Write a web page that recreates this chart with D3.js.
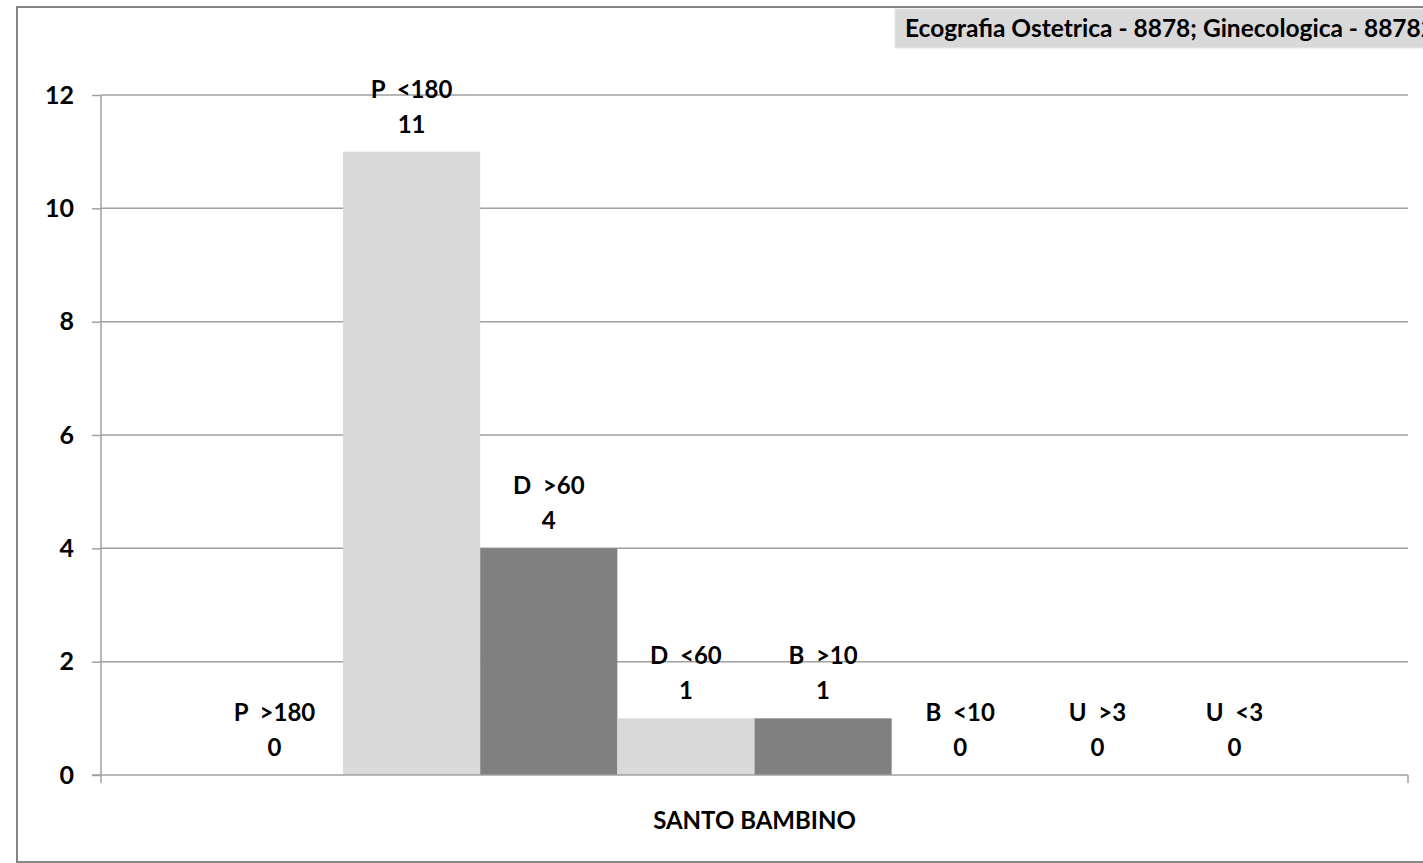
<!DOCTYPE html>
<html>
<head>
<meta charset="utf-8">
<script src="https://cdn.jsdelivr.net/npm/d3@7"></script>
<style>
  body { margin: 0; background: #fff; }
  svg { display: block; font-family: Lato, "Open Sans", sans-serif; font-weight: bold; }
</style>
</head>
<body>
<script>
var categories = ['SANTO BAMBINO'];
var seriesNames = ['P  >180', 'P  <180', 'D  >60', 'D  <60', 'B  >10', 'B  <10', 'U  >3', 'U  <3'];
var seriesValues = [0, 11, 4, 1, 1, 0, 0, 0];
var yTicks = [0, 2, 4, 6, 8, 10, 12];
var titleText = 'Ecografia Ostetrica - 8878; Ginecologica - 88782';

drawChart();

function drawChart(w = 1423, h = 863) {
    var plotLeft = 101, plotRight = 1408, plotTop = 95, plotBottom = 775;

    var svg = d3.select('body').append('svg')
        .attr('width', w)
        .attr('height', h);

    // outer frame
    svg.append('rect')
        .attr('x', 17).attr('y', 7)
        .attr('width', 1500).attr('height', 855)
        .attr('fill', '#fff')
        .attr('stroke', '#868686')
        .attr('stroke-width', 2);

    // title box
    svg.append('rect')
        .attr('x', 895).attr('y', 9)
        .attr('width', 600).attr('height', 39)
        .attr('fill', '#d9d9d9')
        .attr('stroke', '#e6e6e6');
    svg.append('text')
        .attr('x', 905).attr('y', 37)
        .attr('font-size', 24.5)
        .text(titleText);

    var y = d3.scaleLinear().domain([0, 12]).range([plotBottom, plotTop]);

    var x0 = d3.scaleBand()
        .domain(categories)
        .range([plotLeft, plotRight])
        .paddingOuter(0.0956);

    var x1 = d3.scaleBand()
        .domain(seriesNames)
        .range([0, x0.bandwidth()]);

    // y axis ticks and labels
    var yAxis = svg.append('g')
        .attr('transform', 'translate(' + plotLeft + ',0)')
        .call(d3.axisLeft(y).tickValues(yTicks).tickSize(9).tickPadding(18).tickFormat(d3.format('d')));
    yAxis.select('.domain').remove();
    yAxis.selectAll('.tick line').attr('stroke', '#a0a0a0').attr('stroke-width', 1.5);
    yAxis.selectAll('.tick text')
        .attr('font-size', 25)
        .attr('font-family', 'Lato')
        .attr('font-weight', 'bold')
        .attr('fill', '#000');

    // gridlines
    svg.append('g').selectAll('line')
        .data(yTicks.filter(function (d) { return d > 0; }))
        .enter().append('line')
        .attr('x1', plotLeft).attr('x2', plotRight)
        .attr('y1', function (d) { return y(d); })
        .attr('y2', function (d) { return y(d); })
        .attr('stroke', '#a0a0a0')
        .attr('stroke-width', 1.5);

    var group = svg.selectAll('.cat')
        .data(categories)
        .enter().append('g')
        .attr('class', 'cat')
        .attr('transform', function (d) { return 'translate(' + x0(d) + ',0)'; });

    var rows = seriesNames.map(function (n, i) { return { name: n, value: seriesValues[i], i: i }; });

    group.selectAll('rect')
        .data(rows)
        .enter().append('rect')
        .attr('x', function (d) { return x1(d.name); })
        .attr('width', x1.bandwidth())
        .attr('y', function (d) { return y(d.value); })
        .attr('height', function (d) { return plotBottom - y(d.value); })
        .attr('fill', function (d) { return d.i % 2 === 0 ? '#808080' : '#d9d9d9'; });

    // axis lines
    svg.append('line')
        .attr('x1', plotLeft).attr('x2', plotLeft)
        .attr('y1', plotTop).attr('y2', plotBottom + 8)
        .attr('stroke', '#a0a0a0').attr('stroke-width', 1.5);
    svg.append('line')
        .attr('x1', plotLeft - 9).attr('x2', plotRight)
        .attr('y1', plotBottom).attr('y2', plotBottom)
        .attr('stroke', '#a0a0a0').attr('stroke-width', 1.5);
    svg.append('line')
        .attr('x1', plotRight).attr('x2', plotRight)
        .attr('y1', plotBottom).attr('y2', plotBottom + 8)
        .attr('stroke', '#a0a0a0').attr('stroke-width', 1.5);

    // data labels (name + value)
    var labels = group.selectAll('.lbl')
        .data(rows)
        .enter().append('text')
        .attr('class', 'lbl')
        .attr('text-anchor', 'middle')
        .attr('font-size', 24)
        .style('white-space', 'pre')
        .attr('transform', function (d) {
            return 'translate(' + (x1(d.name) + x1.bandwidth() / 2) + ',' + y(d.value) + ')';
        });
    labels.append('tspan').attr('x', 0).attr('y', -54).text(function (d) { return d.name; });
    labels.append('tspan').attr('x', 0).attr('y', -19).text(function (d) { return d.value; });

    // category label
    svg.append('text')
        .attr('x', x0(categories[0]) + x0.bandwidth() / 2)
        .attr('y', 829)
        .attr('text-anchor', 'middle')
        .attr('font-size', 24)
        .text(categories[0]);
}
</script>
</body>
</html>
